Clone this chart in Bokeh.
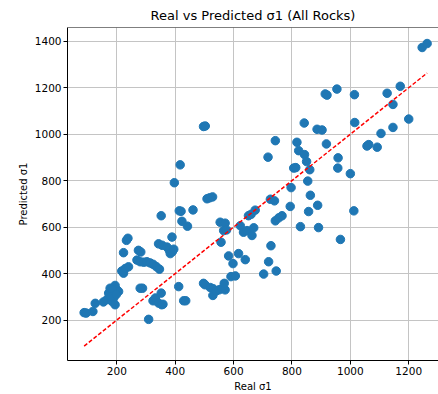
from bokeh.plotting import figure
from bokeh.models import Range1d, FixedTicker, Span
from bokeh.embed import file_html
from bokeh.resources import INLINE

# Real vs predicted major principal stress (sigma 1), all rock types
real_s1 = [
    88, 95, 118, 126, 154, 166, 172, 177, 183, 189, 194, 194, 200, 206, 185, 180, 198,
    217, 223, 229, 240, 223, 233, 238,
    269, 280, 292, 303, 314, 324, 335, 346,
    274, 282, 280, 288,
    309, 324, 332, 343, 354, 352, 358,
    343, 355, 372, 380, 383, 390, 395, 389,
    352, 397, 417, 414, 420, 423, 442, 461,
    412, 429, 436,
    497, 503,
    497, 502, 520, 530, 529, 540, 550, 560, 571, 568,
    509, 518, 528,
    554, 571, 557, 566, 576, 583, 598, 591, 606, 617, 640,
    623, 634, 646, 663, 669, 651, 660, 674,
    703, 720, 728, 746,
    718, 743,
    726, 740, 743, 755, 766,
    797, 794, 806, 813, 817, 823, 829, 842, 843, 850, 861, 854, 863, 857,
    886, 903, 888, 891, 918, 914, 920,
    957, 958, 954, 966,
    1000, 1012, 1014, 1015,
    1057, 1063, 1092, 1105, 1126, 1146, 1146, 1171, 1200, 1246, 1263,
]
pred_s1 = [
    232, 230, 237, 272, 278, 288, 316, 337, 281, 295, 349, 266, 330, 323, 330, 300, 310,
    411, 402, 422, 429, 490, 543, 552,
    458, 451, 449, 451, 446, 440, 430, 419,
    500, 493, 337, 337,
    203, 283, 295, 273, 266, 316, 268,
    528, 522, 514, 500, 486, 494, 505, 557,
    649, 791, 868, 670, 668, 625, 604, 674,
    344, 283, 283,
    1033, 1035,
    358, 352, 340, 335, 306, 325, 330, 335, 330, 358,
    722, 726, 730,
    621, 617, 535, 585, 588, 476, 443, 387, 390, 486, 460,
    606, 578, 585, 564, 597, 649, 655, 673,
    398, 451, 520, 411,
    901, 972,
    720, 713, 627, 640, 649,
    770, 689, 854, 856, 965, 929, 602, 1048, 912, 882, 847, 798, 737, 667,
    1021, 1018, 694, 598, 958, 1173, 1168,
    854, 898, 1194, 547,
    830, 670, 1170, 1050,
    949, 955, 944, 1003, 1176, 1128, 1029, 1206, 1065, 1373, 1390,
]

# ideal y = x reference line over the span of the real values
ideal = [min(real_s1), max(real_s1)]

x_ticks = [200, 400, 600, 800, 1000, 1200]
y_ticks = [200, 400, 600, 800, 1000, 1200, 1400]

FONT = "DejaVu Sans"

p = figure(
    width=438, height=394,
    x_range=Range1d(31, 1302), y_range=Range1d(26, 1459),
    output_backend="svg", toolbar_location=None,
    min_border_left=67, min_border_right=0, min_border_top=26, min_border_bottom=31,
    title="Real vs Predicted σ1 (All Rocks)",
)
p.title.align = "center"
p.title.text_font = FONT
p.title.text_font_size = "13px"
p.title.text_font_style = "normal"
p.title.text_color = "black"

p.outline_line_color = None
p.add_layout(Span(location=1459, dimension="width", line_color="black", line_width=1))

for ax in (p.xaxis[0], p.yaxis[0]):
    ax.axis_line_color = "black"
    ax.major_tick_line_color = "black"
    ax.major_tick_out = 4
    ax.major_tick_in = 0
    ax.minor_tick_line_color = None
    ax.major_label_text_font = FONT
    ax.major_label_text_font_size = "10.5px"
    ax.major_label_text_color = "black"
    ax.axis_label_text_font = FONT
    ax.axis_label_text_font_size = "10px"
    ax.axis_label_text_font_style = "normal"
    ax.axis_label_text_color = "black"
    ax.major_label_standoff = 2
    ax.axis_label_standoff = 3

p.xaxis.ticker = FixedTicker(ticks=x_ticks)
p.yaxis.ticker = FixedTicker(ticks=y_ticks)
p.xaxis.axis_label = "Real σ1"
p.yaxis.axis_label = "Predicted σ1"

p.xgrid.ticker = FixedTicker(ticks=x_ticks)
p.ygrid.ticker = FixedTicker(ticks=y_ticks)
p.grid.grid_line_color = "#c4c4c4"
p.grid.grid_line_width = 1

p.scatter(real_s1, pred_s1, size=8.5, color="#1f77b4", line_color="#1f77b4")
p.line(ideal, ideal, line_color="red", line_width=1.5, line_dash="4 2")

open("out.html", "w").write(file_html(p, INLINE))
